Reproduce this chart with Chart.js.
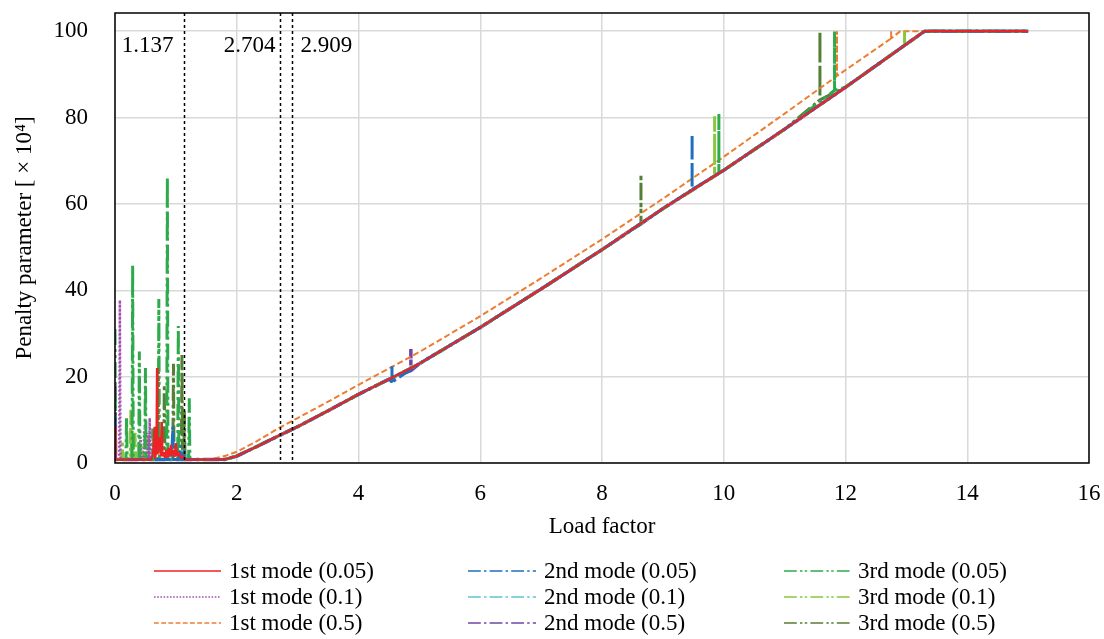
<!DOCTYPE html>
<html>
<head>
<meta charset="utf-8">
<title>Penalty parameter vs load factor</title>
<script src="https://cdn.jsdelivr.net/npm/chart.js@4.4.1/dist/chart.umd.min.js"></script>
<style>
  html, body { margin: 0; padding: 0; background: #ffffff; }
  #wrap { position: relative; width: 1104px; height: 639px; overflow: hidden; }
  #chart { position: absolute; left: 0; top: 0; }
  #legend { position: absolute; left: 0; top: 0; width: 1104px; height: 639px; pointer-events: none;
            font-family: "Liberation Serif", "Times New Roman", serif; font-size: 23px; color: #000; }
  .item { position: absolute; height: 26px; white-space: nowrap; line-height: 26px; }
  .item svg { position: absolute; top: 10px; }
  .item span { position: absolute; top: 0; }
</style>
</head>
<body>
<div id="wrap">
  <canvas id="chart" width="1104" height="639"></canvas>
  <div id="legend"></div>
</div>
<script>
// ---- axes ----
const xTicks = [0, 2, 4, 6, 8, 10, 12, 14, 16];
const yTicks = [0, 20, 40, 60, 80, 100];

// ---- critical load factors (vertical dotted markers) ----
const criticalLoads = [1.137, 2.704, 2.909];
const criticalLabels = ['1.137', '2.704', '2.909'];

// ---- series names (legend order, row by row) ----
const seriesNames = [
  '1st mode (0.05)', '2nd mode (0.05)', '3rd mode (0.05)',
  '1st mode (0.1)',  '2nd mode (0.1)',  '3rd mode (0.1)',
  '1st mode (0.5)',  '2nd mode (0.5)',  '3rd mode (0.5)'
];

// ---- common penalty growth curve (load factor, penalty x10^4) ----
const curveLoad    = [1.8, 2.0, 2.3, 2.704, 3.0, 3.5, 4.0, 4.5, 5.0, 6.0, 7.0, 8.0, 9.0, 10.0, 11.0, 12.0, 13.0, 13.3, 15.0];
const curvePenalty = [0.8, 1.6, 3.6, 6.4, 8.4, 12.1, 15.9, 19.4, 23.0, 31.4, 40.3, 49.4, 58.9, 67.8, 77.3, 87.0, 97.0, 100, 100];

// ---- growth curve of the 1st mode with 0.5 step ----
const curveLoadWide    = [1.55, 1.8, 2.0, 2.3, 2.704, 3.0, 3.5, 4.0, 5.0, 6.0, 7.0, 8.0, 9.0, 10.0, 11.0, 12.0, 12.9, 15.0];
const curvePenaltyWide = [0.8, 1.6, 2.6, 4.8, 8.2, 10.4, 14.2, 18.1, 25.7, 34.0, 42.8, 51.8, 61.2, 70.9, 80.9, 91.0, 100, 100];

// ---- early oscillations, [load factor, penalty] ----
const start1st005 = [[0, 8.5], [0.01, 0.8], [0.6, 0.8], [0.63, 3], [0.65, 8.4], [0.66, 1], [0.68, 3], [0.69, 22], [0.7, 2],
  [0.72, 4], [0.74, 6], [0.75, 1.5], [0.77, 9.5], [0.78, 1.5], [0.8, 2.5], [0.82, 1.2], [0.84, 3], [0.86, 1.2], [0.88, 3.5],
  [0.9, 1.5], [0.92, 4.2], [0.94, 1.8], [0.96, 3], [0.98, 1.4], [1.0, 4.6], [1.02, 1.5], [1.05, 2.5], [1.08, 1.1], [1.12, 1.6], [1.15, 0.8]];
const start2nd005 = [[0, 10.5], [0.01, 0.8], [0.93, 0.8], [0.95, 8.4], [0.96, 0.8], [1.05, 0.8], [1.07, 4], [1.08, 0.8],
  [1.12, 0.8], [1.14, 3], [1.15, 0.8]];
const start3rd005 = [[0, 31], [0.01, 0.8], [0.18, 0.8], [0.19, 10.7], [0.2, 0.8], [0.28, 0.8], [0.29, 45.8], [0.3, 0.8],
  [0.39, 0.8], [0.4, 25.8], [0.41, 0.8], [0.49, 0.8], [0.5, 22], [0.51, 0.8], [0.61, 0.8], [0.62, 8], [0.63, 0.8],
  [0.71, 0.8], [0.72, 38], [0.73, 0.8], [0.85, 0.8], [0.86, 66.3], [0.87, 0.8], [1.03, 0.8], [1.04, 31.7], [1.05, 0.8],
  [1.21, 0.8], [1.22, 15], [1.23, 0.8]];
const start1st01 = [[0, 0.8], [0.07, 0.8], [0.08, 37.7], [0.09, 0.8], [0.41, 0.8], [0.42, 6], [0.43, 0.8], [0.47, 0.8],
  [0.48, 8], [0.49, 0.8], [0.52, 0.8], [0.53, 7], [0.54, 0.8], [0.56, 0.8], [0.57, 10.4], [0.58, 0.8], [0.62, 0.8],
  [0.63, 5], [0.64, 0.8]];
const start2nd01 = [[0, 0.8], [1.08, 0.8], [1.1, 3], [1.12, 0.8], [1.18, 0.8], [1.19, 2], [1.2, 0.8]];
const start3rd01 = [[0, 0.8], [0.11, 0.8], [0.12, 5], [0.13, 0.8], [0.25, 0.8], [0.26, 12.3], [0.27, 0.8], [0.32, 0.8],
  [0.33, 7], [0.34, 0.8], [0.44, 0.8], [0.45, 4], [0.46, 0.8], [0.54, 0.8], [0.55, 6], [0.56, 0.8]];
const start1st05 = [[0, 0.8]];
const start2nd05 = [[0, 18], [0.01, 0.8]];
const start3rd05 = [[0, 0.8], [0.8, 0.8], [0.81, 18], [0.82, 0.8], [0.95, 0.8], [0.96, 23], [0.97, 0.8], [1.09, 0.8],
  [1.1, 25], [1.11, 0.8], [1.13, 0.8], [1.14, 12], [1.15, 0.8]];

// ---- isolated jumps on the growth curve, [load factor, from, to] ----
const jumps1st005 = [];
const jumps2nd005 = [[4.55, 18.7, 22.4], [9.48, 63.3, 76.1]];
const jumps3rd005 = [[9.92, 67.1, 80.8], [11.82, 86.3, 100]];
const jumps1st01  = [];
const jumps2nd01  = [];
const jumps3rd01  = [[9.85, 66.4, 80.3], [12.97, 96.7, 100]];
const jumps1st05  = [[11.86, 89.6, 100], [12.75, 98.3, 100]];
const jumps2nd05  = [[4.86, 21.4, 26.4]];
const jumps3rd05  = [[8.64, 55.3, 66.7], [11.58, 84.1, 100]];

// ---- line styles ----
const seriesColors = ['#ec2227', '#1f6fbf', '#2eaa4c', '#a24fb0', '#5cc6d3', '#8cc63f', '#ed7d31', '#7344a6', '#557f35'];
const dashSolid = [], dashDot = [16, 4, 3, 4], dashDotDot = [16, 4, 3, 3, 3, 4], dotted = [2, 2], dashed = [6, 3];
const seriesDashes = [dashSolid, dashDot, dashDotDot, dotted, dashDot, dashDotDot, dashed, dashDot, dashDotDot];
const seriesWidths = [2.2, 3, 3, 2.5, 3, 3, 2, 3.5, 3];

function buildSeries(start, cx, cy, jumps) {
  const pts = start.map(([x, y]) => ({ x, y }));
  const lastX = pts.length ? pts[pts.length - 1].x : -1;
  cx.forEach((x, i) => { if (x > lastX) pts.push({ x, y: cy[i] }); });
  jumps.forEach(([x, lo, hi]) => {
    let k = pts.findIndex(p => p.x > x);
    if (k < 0) k = pts.length;
    pts.splice(k, 0, { x, y: lo }, { x, y: hi }, { x, y: lo });
  });
  return pts;
}

const seriesData = [
  buildSeries(start1st005, curveLoad, curvePenalty, jumps1st005),
  buildSeries(start2nd005, curveLoad, curvePenalty, jumps2nd005),
  buildSeries(start3rd005, curveLoad, curvePenalty, jumps3rd005),
  buildSeries(start1st01,  curveLoad, curvePenalty, jumps1st01),
  buildSeries(start2nd01,  curveLoad, curvePenalty, jumps2nd01),
  buildSeries(start3rd01,  curveLoad, curvePenalty, jumps3rd01),
  buildSeries(start1st05,  curveLoadWide, curvePenaltyWide, jumps1st05),
  buildSeries(start2nd05,  curveLoad, curvePenalty, jumps2nd05),
  buildSeries(start3rd05,  curveLoad, curvePenalty, jumps3rd05)
];

const FONT = '"Liberation Serif", "Times New Roman", serif';
Chart.defaults.font.family = FONT;
Chart.defaults.color = '#000';

// frame around the plot area
const framePlugin = {
  id: 'frame',
  afterDraw(chart) {
    const { ctx, chartArea: a } = chart;
    ctx.save();
    ctx.strokeStyle = '#000';
    ctx.lineWidth = 1.5;
    ctx.strokeRect(a.left, a.top, a.right - a.left, a.bottom - a.top);
    ctx.restore();
  }
};

// dotted markers at the critical load factors
const labelSide = ['left', 'left', 'right'];
const labelGap = [11, 5, 8];
const markerPlugin = {
  id: 'criticalMarkers',
  afterDatasetsDraw(chart) {
    const { ctx, chartArea: a, scales: { x } } = chart;
    ctx.save();
    criticalLoads.forEach((v, i) => {
      const px = Math.round(x.getPixelForValue(v)) + 0.5;
      ctx.strokeStyle = '#000';
      ctx.lineWidth = 1.5;
      ctx.setLineDash([3, 3]);
      ctx.beginPath();
      ctx.moveTo(px, a.top);
      ctx.lineTo(px, a.bottom);
      ctx.stroke();
      ctx.setLineDash([]);
      ctx.fillStyle = '#000';
      ctx.font = '23px ' + FONT;
      ctx.textBaseline = 'middle';
      if (labelSide[i] === 'left') {
        ctx.textAlign = 'right';
        ctx.fillText(criticalLabels[i], px - labelGap[i], 46);
      } else {
        ctx.textAlign = 'left';
        ctx.fillText(criticalLabels[i], px + labelGap[i], 46);
      }
    });
    ctx.restore();
  }
};

const datasets = seriesNames.map((name, i) => ({
  label: name,
  data: seriesData[i],
  borderColor: seriesColors[i],
  backgroundColor: seriesColors[i],
  borderDash: seriesDashes[i],
  borderWidth: seriesWidths[i],
  borderJoinStyle: 'bevel',
  pointRadius: 0,
  pointHoverRadius: 0,
  tension: 0,
  fill: false
}));

function noEdgePadding(s) {
  s.paddingTop = 0; s.paddingBottom = 0; s.paddingLeft = 0; s.paddingRight = 0;
}

new Chart(document.getElementById('chart'), {
  type: 'line',
  data: { datasets },
  plugins: [markerPlugin, framePlugin],
  options: {
    responsive: false,
    animation: false,
    devicePixelRatio: 1,
    layout: { padding: { left: 0, right: 15, top: 13, bottom: 96 } },
    plugins: { legend: { display: false }, tooltip: { enabled: false } },
    scales: {
      x: {
        type: 'linear',
        min: 0, max: 16,
        afterBuildTicks: s => { s.ticks = xTicks.map(v => ({ value: v })); },
        afterFit: s => { s.height = 80; noEdgePadding(s); },
        grid: { color: '#d9d9d9', lineWidth: 1.5, drawTicks: false },
        border: { display: false },
        ticks: { font: { size: 23 }, padding: 17, maxRotation: 0, autoSkip: false },
        title: { display: true, text: 'Load factor', font: { size: 23 }, padding: { top: 0, bottom: 2 } }
      },
      y: {
        type: 'linear',
        min: 0, max: 104.2,
        afterBuildTicks: s => { s.ticks = yTicks.map(v => ({ value: v })); },
        afterFit: s => { s.width = 115; noEdgePadding(s); },
        grid: { color: '#d9d9d9', lineWidth: 1.5, drawTicks: false },
        border: { display: false },
        ticks: { font: { size: 23 }, padding: 27, autoSkip: false },
        title: { display: true, text: 'Penalty parameter [ × 10⁴]', font: { size: 23 }, padding: { top: 11, bottom: 0 } }
      }
    }
  }
});

// legend: three columns, one per mode
const legendLineX = [154, 468, 784];
const legendTextX = [229, 544, 858];
const legendRowY = [571, 597, 623];
const legendEl = document.getElementById('legend');
seriesNames.forEach((name, i) => {
  const row = Math.floor(i / 3), col = i % 3;
  const item = document.createElement('div');
  item.className = 'item';
  item.style.left = legendLineX[col] + 'px';
  item.style.top = (legendRowY[row] - 13) + 'px';
  const w = legendTextX[col] - legendLineX[col] - 8;
  const dash = seriesDashes[i].length ? seriesDashes[i].map(d => d * 0.8).join(',') : 'none';
  item.innerHTML =
    '<svg width="' + w + '" height="6"><line x1="0" y1="3" x2="' + w + '" y2="3" stroke="' + seriesColors[i] +
    '" stroke-width="1.5" stroke-dasharray="' + dash + '"/></svg>' +
    '<span style="left:' + (legendTextX[col] - legendLineX[col]) + 'px">' + name + '</span>';
  legendEl.appendChild(item);
});
</script>
</body>
</html>
